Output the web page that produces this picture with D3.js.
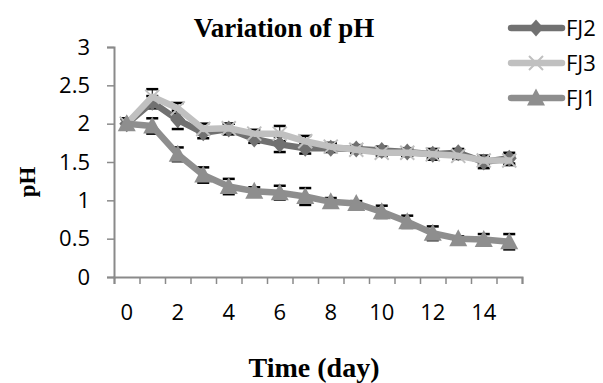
<!DOCTYPE html>
<html>
<head>
<meta charset="utf-8">
<script src="https://cdn.jsdelivr.net/npm/d3@7"></script>
<style>
  body { margin: 0; background: #fff; }
  .tick text { font-family: "Open Sans", "Liberation Sans", sans-serif; }
</style>
</head>
<body>
<div id="chart"></div>
<script>
var svgWidth = 603;
var svgHeight = 383;

// Data
var days = [0, 1, 2, 3, 4, 5, 6, 7, 8, 9, 10, 11, 12, 13, 14, 15];
var fj2 = [2.0, 2.28, 2.05, 1.88, 1.93, 1.8, 1.73, 1.68, 1.68, 1.67, 1.65, 1.63, 1.6, 1.62, 1.5, 1.55];
var fj3 = [2.0, 2.35, 2.2, 1.93, 1.94, 1.87, 1.87, 1.77, 1.7, 1.66, 1.62, 1.62, 1.6, 1.58, 1.52, 1.52];
var fj1 = [2.0, 1.97, 1.6, 1.33, 1.18, 1.12, 1.1, 1.05, 0.98, 0.96, 0.85, 0.72, 0.57, 0.5, 0.49, 0.46];
var fj2Err = [0.07, 0.08, 0.12, 0.07, 0.07, 0.05, 0.1, 0.07, 0.05, 0.05, 0.05, 0.05, 0.07, 0.05, 0.08, 0.07];
var fj3Err = [0.06, 0.1, 0.07, 0.07, 0.06, 0.05, 0.1, 0.07, 0.05, 0.04, 0.04, 0.04, 0.05, 0.04, 0.06, 0.06];
var fj1Err = [0.06, 0.1, 0.09, 0.1, 0.1, 0.05, 0.09, 0.11, 0.05, 0.03, 0.08, 0.08, 0.09, 0.03, 0.07, 0.1];
var yTicks = [0, 0.5, 1, 1.5, 2, 2.5, 3];
var xLabels = [0, 2, 4, 6, 8, 10, 12, 14];

var series = [
    { name: "FJ2", values: fj2, err: fj2Err, color: "#717171", marker: "diamond" },
    { name: "FJ3", values: fj3, err: fj3Err, color: "#c0c0c0", marker: "cross" },
    { name: "FJ1", values: fj1, err: fj1Err, color: "#8e8e8e", marker: "triangle" }
];

var svg = d3.select("#chart").append("svg")
    .attr("width", svgWidth)
    .attr("height", svgHeight);

// Scales
var xEdge = d3.scaleLinear().domain([0, 16]).range([114, 522]);
var x = d => xEdge(d + 0.5);
var y = d3.scaleLinear().domain([0, 3]).range([277, 47]);

var axisColor = "#8a8a8a";
var sansFont = "'Open Sans', 'Liberation Sans', sans-serif";
var serifFont = "'Liberation Serif', 'Times New Roman', serif";

// Y axis
var yAxis = svg.append("g")
    .attr("transform", "translate(114,0)")
    .call(d3.axisLeft(y).tickValues(yTicks).tickSize(7).tickPadding(17)
        .tickFormat(d => String(d)));
yAxis.select(".domain").attr("stroke", axisColor).attr("stroke-width", 2);
yAxis.selectAll(".tick line").attr("stroke", axisColor).attr("stroke-width", 1.5);
yAxis.selectAll(".tick text").style("font-size", "22px").attr("fill", "#000");

// X axis: boundary ticks
var xAxis = svg.append("g")
    .attr("transform", "translate(0,277)")
    .call(d3.axisBottom(xEdge).tickValues(d3.range(0, 17)).tickSize(7).tickFormat(""));
xAxis.select(".domain").attr("stroke", axisColor).attr("stroke-width", 2);
xAxis.selectAll(".tick line").attr("stroke", axisColor).attr("stroke-width", 1.5);

// X labels at category centers
svg.append("g").selectAll("text")
    .data(xLabels)
    .enter()
    .append("text")
    .attr("x", d => x(d))
    .attr("y", 320)
    .attr("text-anchor", "middle")
    .style("font-family", sansFont)
    .style("font-size", "22px")
    .text(d => d);

// Error bars
series.forEach(function (s) {
    var g = svg.append("g");
    days.forEach(function (d, i) {
        var v = s.values[i], e = s.err[i];
        g.append("line")
            .attr("x1", x(d)).attr("x2", x(d))
            .attr("y1", y(v - e)).attr("y2", y(v + e))
            .attr("stroke", "#000").attr("stroke-width", 1);
        [v - e, v + e].forEach(function (t) {
            g.append("line")
                .attr("x1", x(d) - 6).attr("x2", x(d) + 6)
                .attr("y1", y(t)).attr("y2", y(t))
                .attr("stroke", "#000").attr("stroke-width", 2.5);
        });
    });
});

// Markers
function drawMarker(g, type, cx, cy, color) {
    if (type === "diamond") {
        g.append("path")
            .attr("d", `M${cx},${cy - 8.5}L${cx + 7.5},${cy}L${cx},${cy + 8.5}L${cx - 7.5},${cy}Z`)
            .attr("fill", color);
    } else if (type === "triangle") {
        g.append("path")
            .attr("d", `M${cx},${cy - 9.5}L${cx + 9},${cy + 7.5}L${cx - 9},${cy + 7.5}Z`)
            .attr("fill", color);
    } else {
        g.append("path")
            .attr("d", `M${cx - 7},${cy - 7}L${cx + 7},${cy + 7}M${cx - 7},${cy + 7}L${cx + 7},${cy - 7}`)
            .attr("stroke", color).attr("stroke-width", 2);
    }
}

var line = d3.line()
    .x((v, i) => x(days[i]))
    .y(v => y(v));

series.forEach(function (s) {
    var g = svg.append("g");
    g.append("path")
        .datum(s.values)
        .attr("d", line)
        .attr("fill", "none")
        .attr("stroke", s.color)
        .attr("stroke-width", 6.5)
        .attr("stroke-linejoin", "round")
        .attr("stroke-linecap", "round");
    s.values.forEach(function (v, i) {
        drawMarker(g, s.marker, x(days[i]), y(v), s.color);
    });
});

// Legend
var legendY = [28, 63, 98];
series.forEach(function (s, i) {
    var g = svg.append("g");
    g.append("line")
        .attr("x1", 511).attr("x2", 562)
        .attr("y1", legendY[i]).attr("y2", legendY[i])
        .attr("stroke", s.color).attr("stroke-width", 6.5)
        .attr("stroke-linecap", "round");
    drawMarker(g, s.marker, 536, legendY[i], s.color);
    g.append("text")
        .attr("x", 566)
        .attr("y", legendY[i] + 8)
        .style("font-family", sansFont)
        .style("font-size", "22px")
        .text(s.name);
});

// Title and axis labels
svg.append("text")
    .attr("x", 284)
    .attr("y", 37)
    .attr("text-anchor", "middle")
    .style("font-family", serifFont)
    .style("font-weight", "bold")
    .style("font-size", "27px")
    .text("Variation of pH");

svg.append("text")
    .attr("transform", "translate(35,182) rotate(-90)")
    .attr("text-anchor", "middle")
    .style("font-family", serifFont)
    .style("font-weight", "bold")
    .style("font-size", "23px")
    .text("pH");

svg.append("text")
    .attr("x", 314)
    .attr("y", 377)
    .attr("text-anchor", "middle")
    .style("font-family", serifFont)
    .style("font-weight", "bold")
    .style("font-size", "28px")
    .text("Time (day)");
</script>
</body>
</html>
